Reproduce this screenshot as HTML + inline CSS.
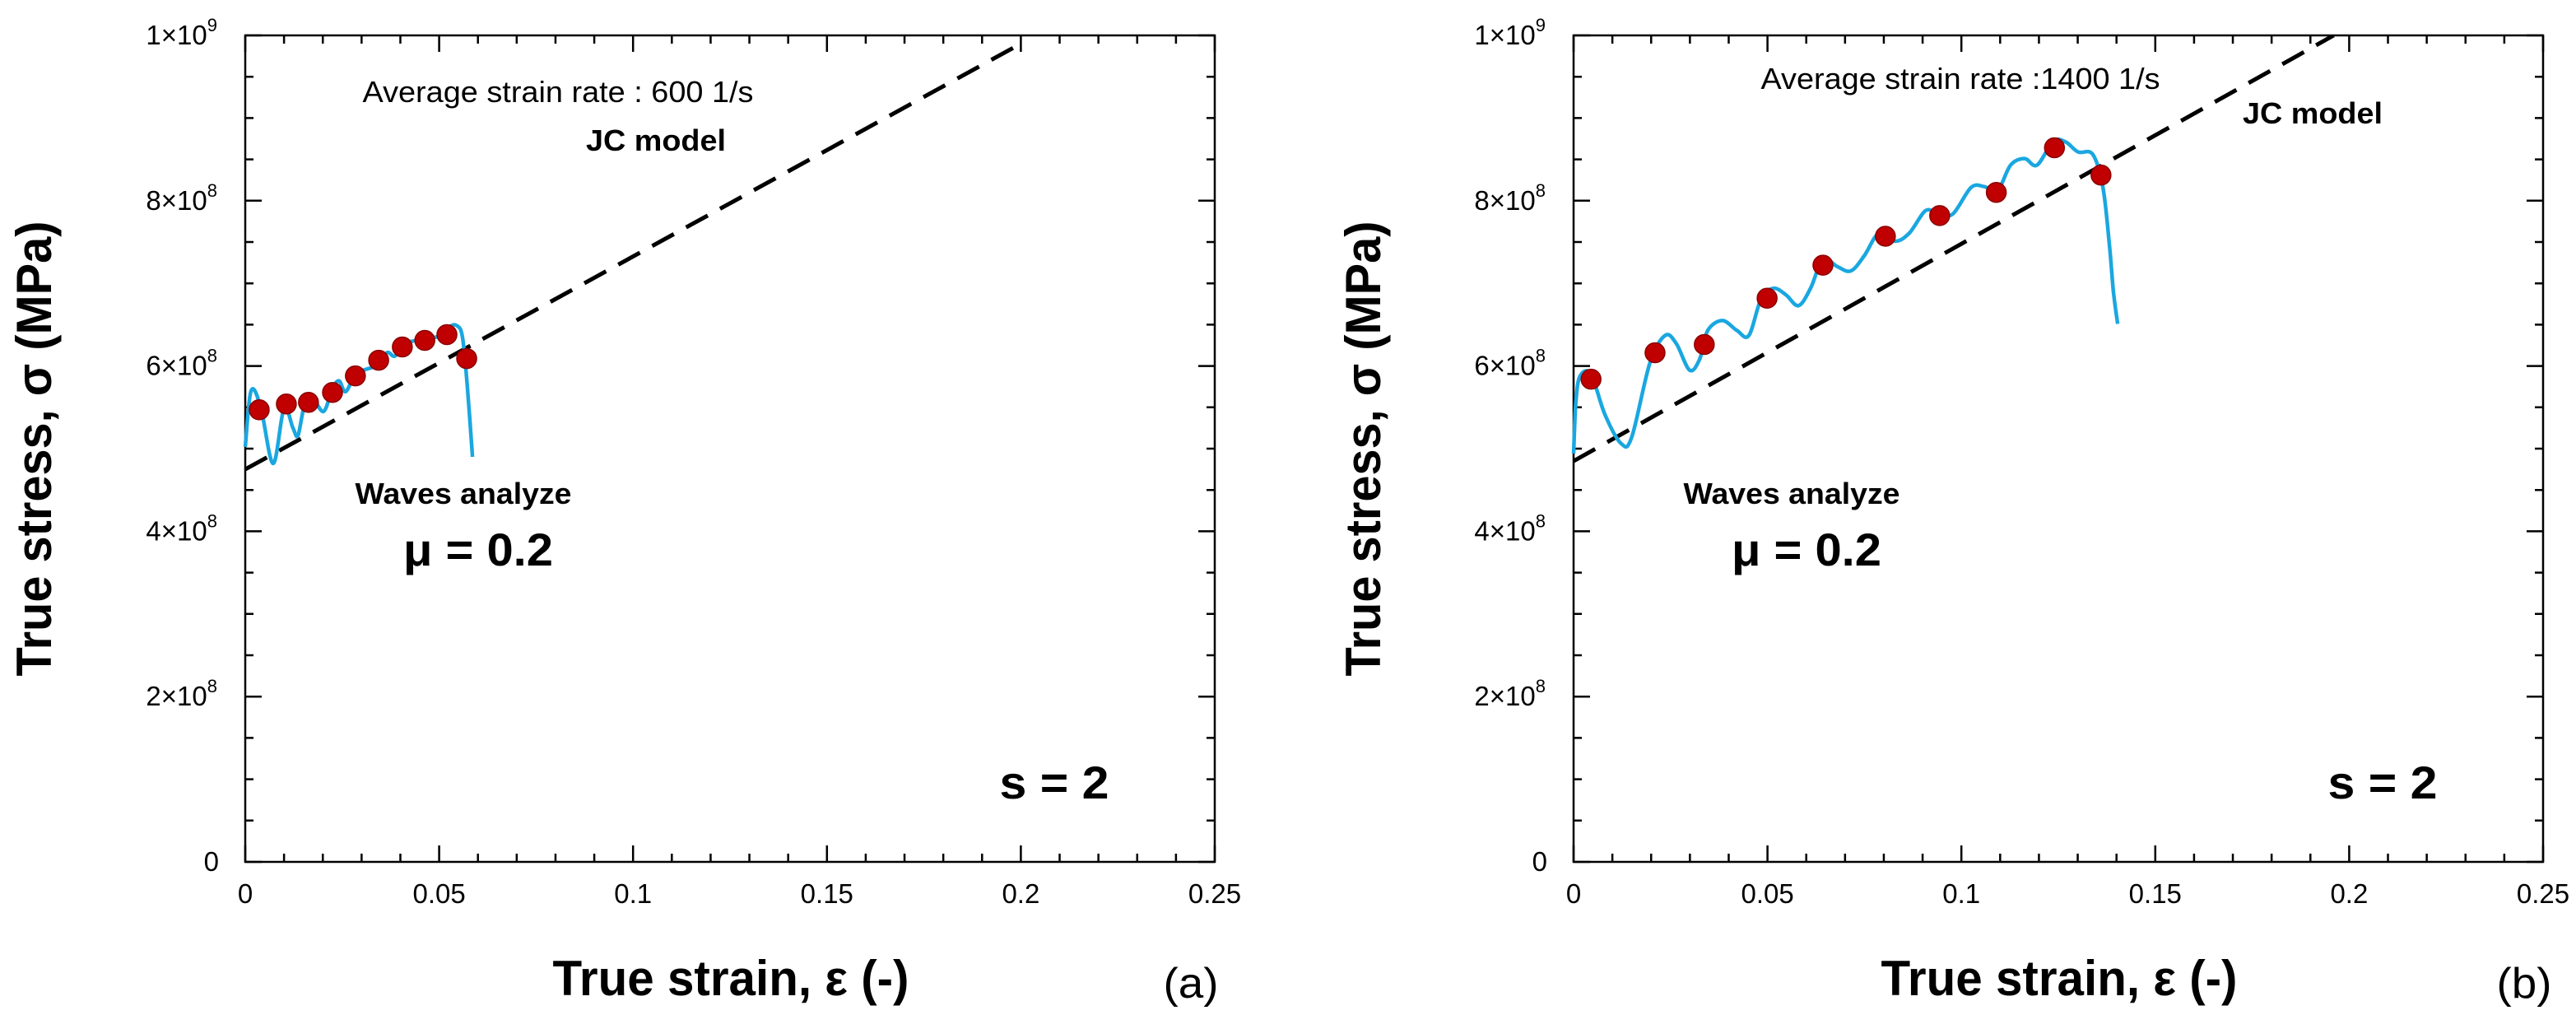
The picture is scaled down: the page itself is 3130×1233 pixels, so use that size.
<!DOCTYPE html>
<html><head><meta charset="utf-8"><style>
html,body{margin:0;padding:0;background:#fff;}
svg{display:block;font-family:"Liberation Sans",Arial,sans-serif;}
</style></head><body>
<svg id="chart" width="3130" height="1233" viewBox="0 0 3130 1233" xmlns="http://www.w3.org/2000/svg"></svg>
<script>
// shared axis ticks
const xTickValues = [0, 0.05, 0.1, 0.15, 0.2, 0.25];
const xTickLabels = ["0", "0.05", "0.1", "0.15", "0.2", "0.25"];
const yTickValues = [0, 2e8, 4e8, 6e8, 8e8, 1e9];
const yTickMant = ["0", "2", "4", "6", "8", "1"];
const yTickExp = ["", "8", "8", "8", "8", "9"];

// panel (a)
const aCurveX = [0,0.0015,0.004,0.0072,0.01,0.0123,0.0136,0.0153,0.0174,0.0202,0.0225,0.0242,0.0259,0.0284,0.0312,0.0333,0.0365,0.0386,0.0412,0.044,0.0471,0.0492,0.0524,0.0545,0.056,0.0573,0.0586];
const aCurveY = [5.02e8,5.7e8,5.5e8,4.82e8,5.49e8,5.25e8,5.16e8,5.53e8,5.61e8,5.45e8,5.73e8,5.82e8,5.69e8,5.9e8,5.96e8,6.0e8,6.16e8,6.12e8,6.27e8,6.31e8,6.37e8,6.35e8,6.47e8,6.49e8,6.35e8,5.73e8,4.9e8];
const aMarkX = [0.0036,0.0106,0.0163,0.0225,0.0284,0.0344,0.0405,0.0463,0.052,0.0571];
const aMarkY = [5.47e8,5.54e8,5.56e8,5.68e8,5.88e8,6.07e8,6.23e8,6.31e8,6.38e8,6.09e8];
const aJcX = [0, 0.2];
const aJcY = [4.75e8, 9.9e8];

// panel (b)
const bCurveX = [0,0.0006,0.0017,0.0045,0.0081,0.0123,0.015,0.0197,0.0236,0.0265,0.0299,0.0325,0.0346,0.0384,0.0421,0.0452,0.0484,0.0516,0.0548,0.058,0.0611,0.0643,0.0681,0.0715,0.0749,0.0788,0.083,0.0866,0.0908,0.094,0.0978,0.1025,0.1059,0.1093,0.1127,0.1163,0.1195,0.1237,0.1269,0.1301,0.1339,0.1365,0.1382,0.1392,0.1403];
const bCurveY = [4.94e8,5.57e8,5.88e8,5.9e8,5.41e8,5.06e8,5.14e8,6.04e8,6.37e8,6.27e8,5.95e8,6.08e8,6.43e8,6.55e8,6.43e8,6.37e8,6.82e8,6.94e8,6.86e8,6.73e8,6.94e8,7.29e8,7.2e8,7.15e8,7.33e8,7.61e8,7.51e8,7.61e8,7.88e8,7.84e8,7.84e8,8.16e8,8.17e8,8.12e8,8.43e8,8.51e8,8.43e8,8.72e8,8.71e8,8.59e8,8.56e8,8.16e8,7.45e8,6.9e8,6.51e8];
const bMarkX = [0.0045,0.021,0.0337,0.0499,0.0643,0.0804,0.0944,0.109,0.124,0.136];
const bMarkY = [5.84e8,6.16e8,6.26e8,6.82e8,7.22e8,7.57e8,7.82e8,8.1e8,8.64e8,8.31e8];
const bJcX = [0, 0.196];
const bJcY = [4.85e8, 1e9];

const NS = "http://www.w3.org/2000/svg";
const svg = document.getElementById('chart');
function mk(tag, attrs, parent, text) {
  const e = document.createElementNS(NS, tag);
  for (const k in attrs) e.setAttribute(k, attrs[k]);
  if (text !== undefined) e.textContent = text;
  (parent || svg).appendChild(e);
  return e;
}
function smoothPath(P) {
  let d = `M${P[0][0].toFixed(1)},${P[0][1].toFixed(1)}`;
  for (let i = 0; i < P.length - 1; i++) {
    const p0 = P[Math.max(0, i - 1)], p1 = P[i], p2 = P[i + 1], p3 = P[Math.min(P.length - 1, i + 2)];
    const c1x = p1[0] + (p2[0] - p0[0]) / 6, c1y = p1[1] + (p2[1] - p0[1]) / 6;
    const c2x = p2[0] - (p3[0] - p1[0]) / 6, c2y = p2[1] - (p3[1] - p1[1]) / 6;
    d += `C${c1x.toFixed(1)},${c1y.toFixed(1)} ${c2x.toFixed(1)},${c2y.toFixed(1)} ${p2[0].toFixed(1)},${p2[1].toFixed(1)}`;
  }
  return d;
}

function panel(id, L, cfg) {
  const R = L + 1178, T = 43, B = 1047;
  const sx = v => L + v / 0.25 * (R - L);
  const sy = v => B - v / 1e9 * (B - T);
  const g = mk('g', {});
  
  

  const fr = mk('rect', {x: L, y: T, width: R - L, height: B - T, fill: 'none', stroke: '#000', 'stroke-width': 2.5}, g);
  
  

  let d = '';
  for (let i = 0; i <= 25; i++) {
    const x = sx(i * 0.01), len = (i % 5 === 0) ? 20 : 10;
    d += `M${x} ${B}v${-len}M${x} ${T}v${len}`;
  }
  for (let i = 0; i <= 20; i++) {
    const y = sy(i * 5e7), len = (i % 4 === 0) ? 20 : 10;
    d += `M${L} ${y}h${len}M${R} ${y}h${-len}`;
  }
  const tk = mk('path', {d: d, stroke: '#000', 'stroke-width': 2.5, fill: 'none'}, g);
  
  

  xTickValues.forEach((v, i) => {
    const t = mk('text', {x: sx(v), y: 1097, 'font-size': 33, 'text-anchor': 'middle', fill: '#000'}, g, xTickLabels[i]);
    
    
  });
  yTickValues.forEach((v, i) => {
    const y = sy(v) + 11;
    let t;
    if (yTickExp[i] === '') {
      t = mk('text', {x: L - 32, y: y, 'font-size': 33, 'text-anchor': 'end', fill: '#000'}, g, yTickMant[i]);
    } else {
      t = mk('text', {x: L - 34, y: y, 'font-size': 33, 'text-anchor': 'end', fill: '#000'}, g);
      mk('tspan', {}, t, yTickMant[i] + '\u00d710');
      mk('tspan', {dy: -16, 'font-size': 22}, t, yTickExp[i]);
    }
    
    
  });

  const cp = mk('clipPath', {id: 'clip-' + id}, g);
  mk('rect', {x: L, y: T, width: R - L, height: B - T}, cp);

  const jc = mk('line', {x1: sx(cfg.jcX[0]), y1: sy(cfg.jcY[0]), x2: sx(cfg.jcX[1]), y2: sy(cfg.jcY[1]), stroke: '#000', 'stroke-width': 5, 'stroke-dasharray': '30 17', 'clip-path': `url(#clip-${id})`}, g);
  
  

  const P = cfg.cx.map((v, i) => [sx(v), sy(cfg.cy[i])]);
  const cv = mk('path', {d: smoothPath(P), fill: 'none', stroke: '#1aa7e0', 'stroke-width': 4.5, 'stroke-linejoin': 'round'}, g);
  
  

  cfg.mx.forEach((v, i) => {
    const c = mk('circle', {cx: sx(v), cy: sy(cfg.my[i]), r: 12, fill: '#c00000', stroke: '#8a0000', 'stroke-width': 1.5}, g);
    
    
  });

  cfg.texts.forEach(tx => {
    const t = mk('text', {x: tx.x, y: tx.y, 'font-size': tx.fs, 'font-weight': tx.b ? 'bold' : 'normal', 'text-anchor': 'middle', fill: '#000', textLength: tx.w, lengthAdjust: 'spacingAndGlyphs'}, g, tx.s);
    
    
  });
  const yt = mk('text', {x: 0, y: 0, 'font-size': 60, 'font-weight': 'bold', 'text-anchor': 'middle', fill: '#000', textLength: 553, lengthAdjust: 'spacingAndGlyphs', transform: `translate(${cfg.ytx},545) rotate(-90)`}, g, 'True stress, \u03c3 (MPa)');
  
  
}

panel('a', 298, {
  cx: aCurveX, cy: aCurveY, mx: aMarkX, my: aMarkY, jcX: aJcX, jcY: aJcY, ytx: 62,
  texts: [
    {s: 'Average strain rate : 600 1/s', x: 678, y: 124, fs: 36, w: 475, n: 'strain-rate-label'},
    {s: 'JC model', x: 797, y: 183, fs: 36, b: 1, w: 170, n: 'jc-model-label'},
    {s: 'Waves analyze', x: 563, y: 612, fs: 36, b: 1, w: 263, n: 'waves-analyze-label'},
    {s: '\u03bc = 0.2', x: 581, y: 687, fs: 56, b: 1, w: 182, n: 'mu-label'},
    {s: 's = 2', x: 1281, y: 970, fs: 56, b: 1, w: 133, n: 's-label'},
    {s: 'True strain, \u03b5 (-)', x: 888, y: 1209, fs: 60, b: 1, w: 433, n: 'x-axis-title'},
    {s: '(a)', x: 1447, y: 1212, fs: 52, w: 67, n: 'panel-label'}
  ]
});
panel('b', 1912, {
  cx: bCurveX, cy: bCurveY, mx: bMarkX, my: bMarkY, jcX: bJcX, jcY: bJcY, ytx: 1677,
  texts: [
    {s: 'Average strain rate :1400 1/s', x: 2382, y: 108, fs: 36, w: 485, n: 'strain-rate-label'},
    {s: 'JC model', x: 2810, y: 150, fs: 36, b: 1, w: 170, n: 'jc-model-label'},
    {s: 'Waves analyze', x: 2177, y: 612, fs: 36, b: 1, w: 263, n: 'waves-analyze-label'},
    {s: '\u03bc = 0.2', x: 2195, y: 687, fs: 56, b: 1, w: 182, n: 'mu-label'},
    {s: 's = 2', x: 2895, y: 970, fs: 56, b: 1, w: 133, n: 's-label'},
    {s: 'True strain, \u03b5 (-)', x: 2502, y: 1209, fs: 60, b: 1, w: 433, n: 'x-axis-title'},
    {s: '(b)', x: 3067, y: 1212, fs: 52, w: 67, n: 'panel-label'}
  ]
});
</script>
</body></html>
